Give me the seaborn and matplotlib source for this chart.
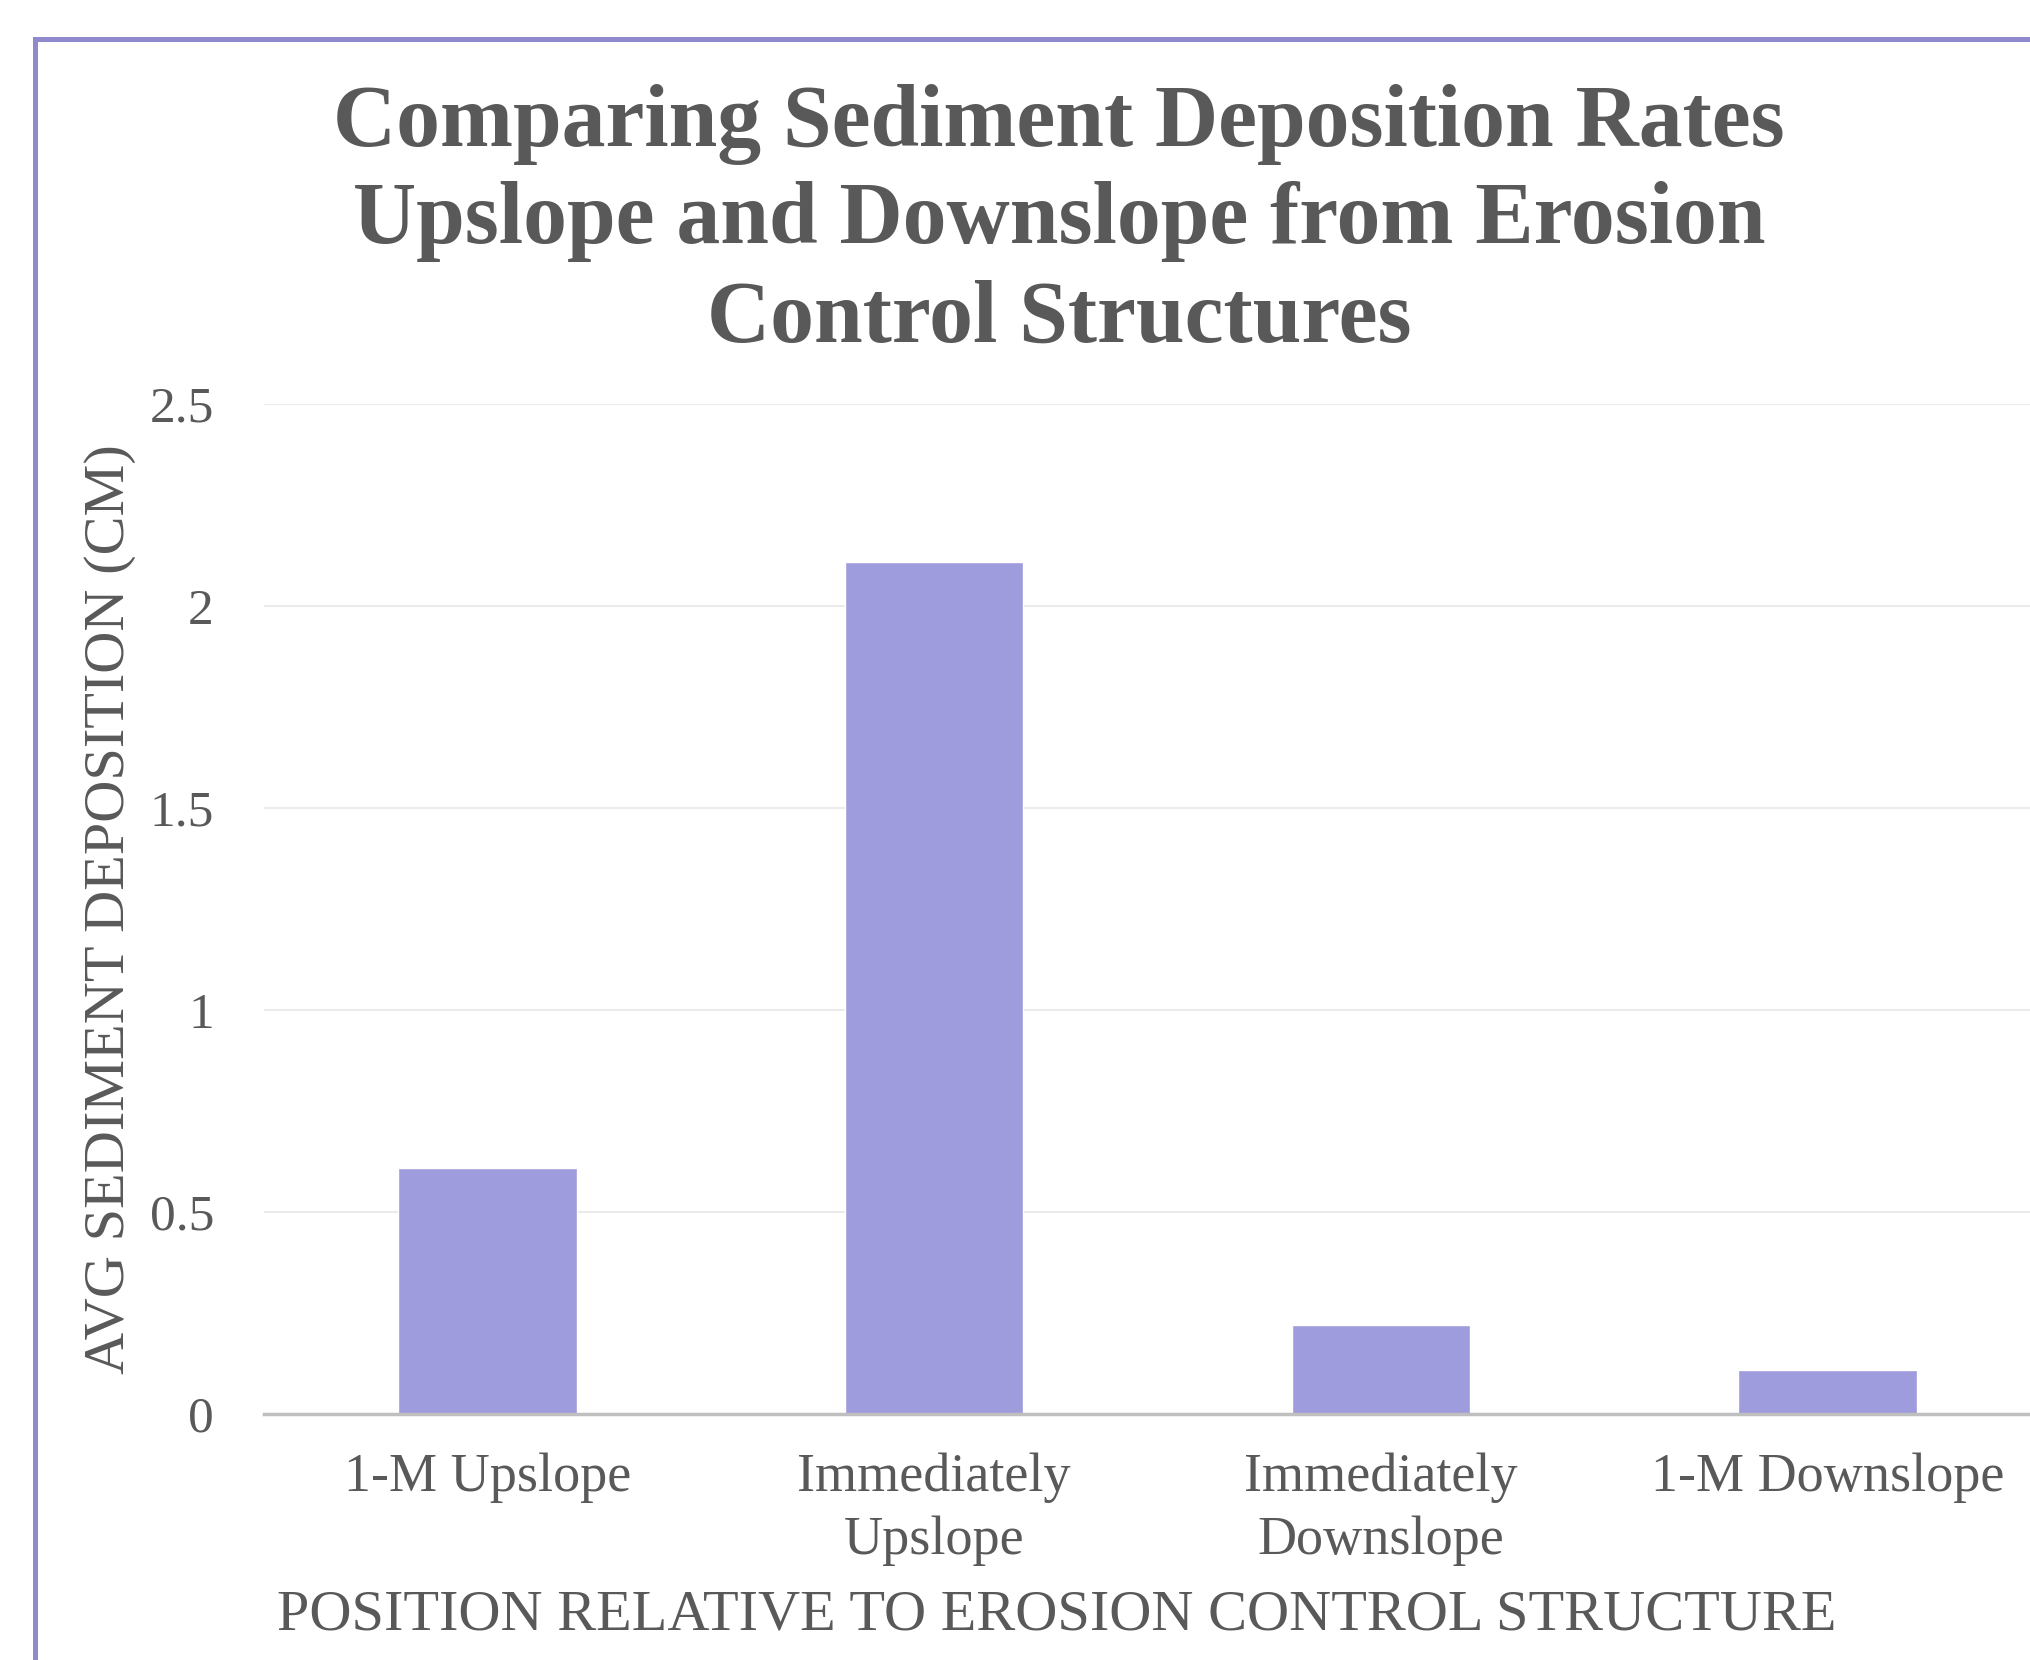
import matplotlib
matplotlib.use("Agg")
import matplotlib.pyplot as plt
import seaborn as sns
import pandas as pd
from matplotlib.lines import Line2D
from matplotlib.ticker import MultipleLocator, FuncFormatter

# --- dados ---
posicoes = ["1-M Upslope", "Immediately\nUpslope", "Immediately\nDownslope", "1-M Downslope"]
deposicao_cm = [0.61, 2.11, 0.22, 0.11]

titulo = "Comparing Sediment Deposition Rates\nUpslope and Downslope from Erosion\nControl Structures"
rotulo_x = "POSITION RELATIVE TO EROSION CONTROL STRUCTURE"
rotulo_y = "AVG SEDIMENT DEPOSITION (CM)"

COR_BARRA = "#9e9cdc"
COR_TEXTO = "#595959"
COR_BORDA = "#8e8acd"

df = pd.DataFrame({"Posicao": posicoes, "Deposicao": deposicao_cm})

sns.set_theme(style="white")
plt.rcParams["font.family"] = ["Liberation Serif", "DejaVu Serif"]

fig = plt.figure(figsize=(20.31, 16.60), dpi=100)
W, H = 2031, 1660
ax = fig.add_axes([264 / W, 1 - 1414 / H, (2051 - 264) / W, (1414 - 404) / H])

sns.barplot(data=df, x="Posicao", y="Deposicao", color=COR_BARRA, saturation=1,
            width=0.4, ax=ax)

ax.set_ylim(0, 2.5)
ax.set_xlim(-0.5, len(posicoes) - 0.5)
ax.yaxis.set_major_locator(MultipleLocator(0.5))
ax.yaxis.set_major_formatter(FuncFormatter(lambda v, p: f"{v:g}"))
ax.grid(axis="y", color="#ebebeb", linewidth=1.5)
ax.set_axisbelow(True)

for lado in ["top", "right", "left"]:
    ax.spines[lado].set_visible(False)
ax.spines["bottom"].set_color("#bfbfbf")
ax.spines["bottom"].set_linewidth(2.5)

ax.tick_params(axis="y", length=0, pad=36, labelsize=37, labelcolor=COR_TEXTO)
ax.tick_params(axis="x", length=0, pad=28, labelsize=39, labelcolor=COR_TEXTO)
for rotulo in ax.get_xticklabels():
    rotulo.set_linespacing(1.32)

ax.set_xlabel(rotulo_x, fontsize=42, color=COR_TEXTO, va="center")
ax.xaxis.set_label_coords((1057 - 264) / (2051 - 264), (1414 - 1615) / (1414 - 404))
ax.set_ylabel(rotulo_y, fontsize=42, color=COR_TEXTO, va="center")
ax.yaxis.set_label_coords((110 - 264) / (2051 - 264), 0.5)

fig.text(1059 / W, 1 - 222 / H, titulo, ha="center", va="center", multialignment="center",
         fontsize=63, fontweight="bold", color=COR_TEXTO, linespacing=1.27)

# borda do quadro (cortada pela direita e por baixo)
bx, by = 35 / W, 1 - 39 / H
fig.add_artist(Line2D([bx, bx], [-0.05, by], color=COR_BORDA, linewidth=3.6,
                      transform=fig.transFigure, solid_capstyle="projecting"))
fig.add_artist(Line2D([bx, 1.05], [by, by], color=COR_BORDA, linewidth=3.6,
                      transform=fig.transFigure, solid_capstyle="projecting"))

fig.savefig("out.png", dpi=100)
